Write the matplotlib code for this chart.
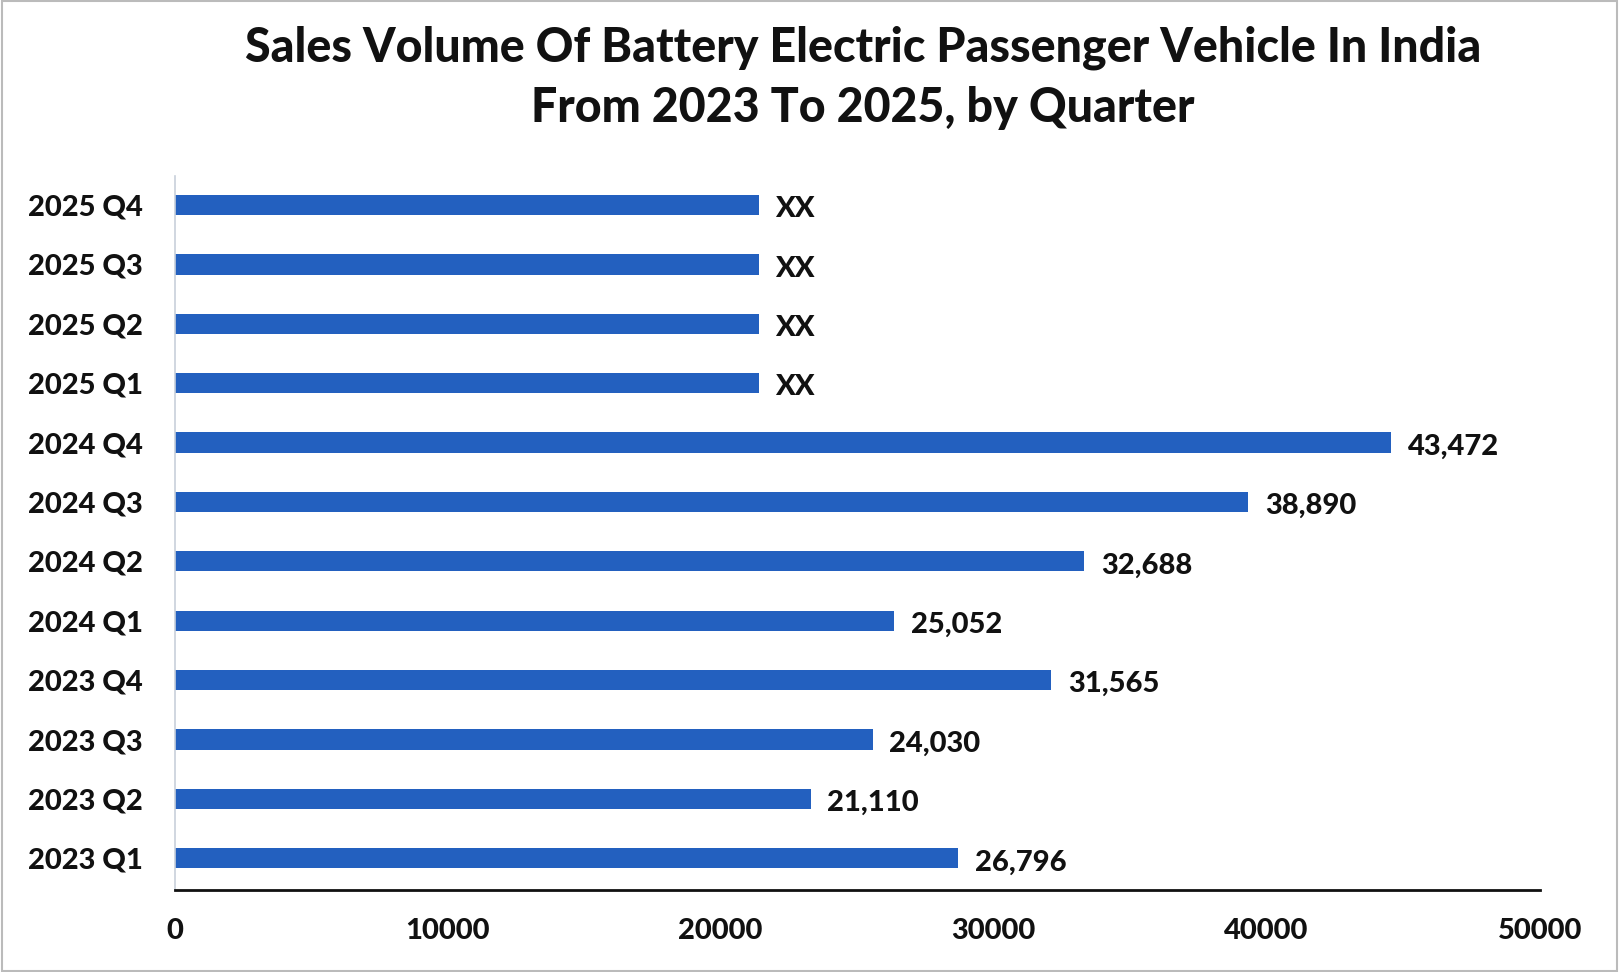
import matplotlib
matplotlib.use("Agg")
import matplotlib.pyplot as plt

categories = ["2023 Q1", "2023 Q2", "2023 Q3", "2023 Q4",
              "2024 Q1", "2024 Q2", "2024 Q3", "2024 Q4",
              "2025 Q1", "2025 Q2", "2025 Q3", "2025 Q4"]
# bar lengths as drawn in the picture
bar_values = [28700, 23300, 25570, 32110,
              26360, 33320, 39330, 44550,
              21400, 21400, 21400, 21400]
# labels printed next to each bar
value_labels = ["26,796", "21,110", "24,030", "31,565",
                "25,052", "32,688", "38,890", "43,472",
                "XX", "XX", "XX", "XX"]
x_ticks = [0, 10000, 20000, 30000, 40000, 50000]
title = "Sales Volume Of Battery Electric Passenger Vehicle In India\nFrom 2023 To 2025, by Quarter"

FONT = ["Lato", "DejaVu Sans"]
plt.rcParams["font.family"] = FONT
W = "black"

fig = plt.figure(figsize=(16.19, 9.72), dpi=100)
ax = fig.add_axes([0.1078, 0.084, 0.951 - 0.1078, 0.819 - 0.084])

ypos = list(range(len(categories)))
ax.barh(ypos, bar_values, height=0.34, color="#2360BF")
for y, v, lab in zip(ypos, bar_values, value_labels):
    ax.annotate(lab, (v, y), xytext=(12, -3), textcoords="offset points",
                ha="left", va="center", fontsize=21, fontweight=W, color="#111111")

ax.set_xlim(0, 50000)
ax.set_ylim(-0.54, 11.49)
ax.set_yticks(ypos)
ax.set_yticklabels(categories, fontsize=21, fontweight=W, color="#111111")
ax.set_xticks(x_ticks)
ax.set_xticklabels([str(t) for t in x_ticks], fontsize=21, fontweight=W, color="#111111")
ax.tick_params(axis="both", length=0)
ax.tick_params(axis="x", pad=20)
ax.tick_params(axis="y", pad=23)
ax.spines["top"].set_visible(False)
ax.spines["right"].set_visible(False)
ax.spines["left"].set_color("#C8D0DA")
ax.spines["left"].set_linewidth(1.2)
ax.spines["bottom"].set_color("#111111")
ax.spines["bottom"].set_linewidth(2)

fig.text(0.533, 0.974, title, ha="center", va="top", fontsize=33.5,
         fontweight=W, linespacing=1.45, color="#111111")

border = plt.Rectangle((0.001, 0.001), 0.998, 0.998, transform=fig.transFigure,
                       fill=False, edgecolor="#BBBBBB", linewidth=1.5)
fig.patches.append(border)

fig.savefig("out.png", dpi=100, facecolor="white")
